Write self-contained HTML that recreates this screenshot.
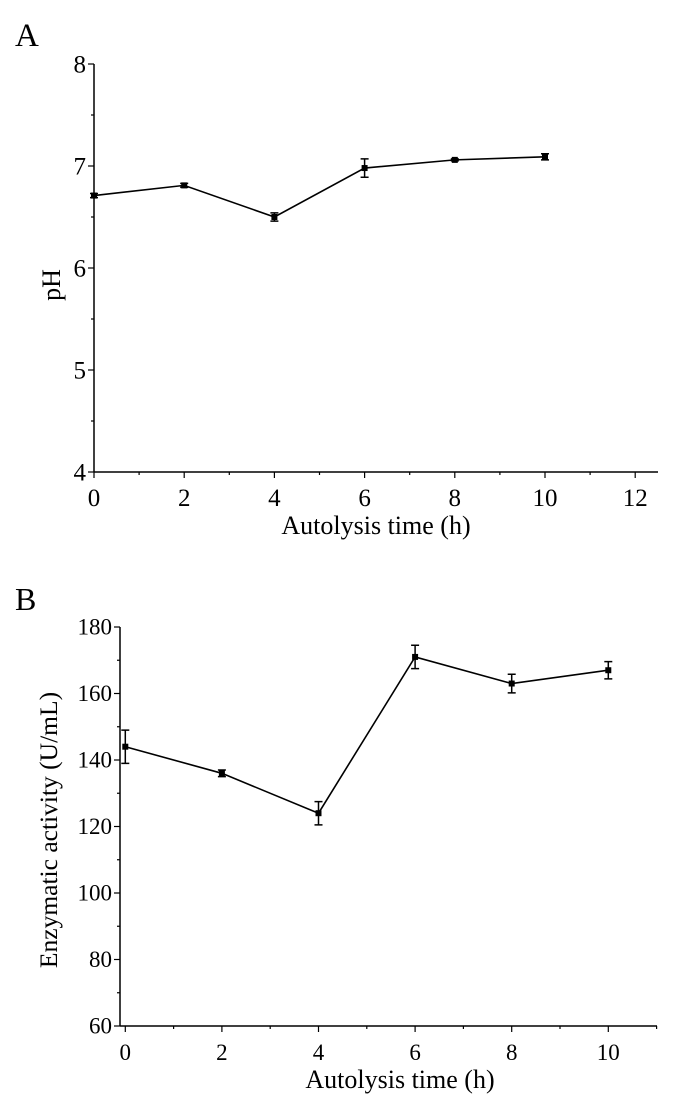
<!DOCTYPE html>
<html><head><meta charset="utf-8"><style>
html,body{margin:0;padding:0;background:#fff;}
svg{display:block;font-family:"Liberation Serif",serif;}
</style></head><body>
<svg id="fig" width="683" height="1105" viewBox="0 0 683 1105">
<text x="15" y="46" font-size="33">A</text>
<text x="15" y="610" font-size="32">B</text>
<g id="chartA"></g>
<g id="chartB"></g>
</svg>
<script>
const timesA = [0, 2, 4, 6, 8, 10];
const phValues = [6.71, 6.81, 6.50, 6.98, 7.06, 7.09];
const phErrors = [0.02, 0.02, 0.04, 0.09, 0.01, 0.03];
const xTicksA = [0, 2, 4, 6, 8, 10, 12];
const yTicksA = [4, 5, 6, 7, 8];

const timesB = [0, 2, 4, 6, 8, 10];
const enzValues = [144, 136, 124, 171, 163, 167];
const enzErrors = [5, 1, 3.5, 3.5, 2.8, 2.6];
const xTicksB = [0, 2, 4, 6, 8, 10];
const yTicksB = [60, 80, 100, 120, 140, 160, 180];

const NS = "http://www.w3.org/2000/svg";
function mk(parent, tag, attrs) {
  const el = document.createElementNS(NS, tag);
  for (const k in attrs) el.setAttribute(k, attrs[k]);
  parent.appendChild(el);
  return el;
}

function drawChart(g, cfg) {
  const xs = v => cfg.x0 + (v - cfg.xmin) * cfg.xpu;
  const ys = v => cfg.ybot - (v - cfg.ymin) * cfg.ypu;
  let ax = mk(g, "line", {x1: cfg.axX, y1: cfg.ytop, x2: cfg.axX, y2: cfg.ybot, stroke: "#000", "stroke-width": 1.5});
  
  
  ax = mk(g, "line", {x1: cfg.axX, y1: cfg.ybot, x2: cfg.xend, y2: cfg.ybot, stroke: "#000", "stroke-width": 1.5});
  
  
  cfg.yTicks.forEach((t, i) => {
    const y = ys(t);
    const tk = mk(g, "line", {x1: cfg.axX - 6, y1: y, x2: cfg.axX, y2: y, stroke: "#000", "stroke-width": 1.2});
    
    
    const lb = mk(g, "text", {x: cfg.axX - 8, y: y + cfg.tickFs * 0.33, "font-size": cfg.tickFs, "text-anchor": "end"});
    lb.textContent = t;
    
    
    if (i < cfg.yTicks.length - 1) {
      const m = ys((t + cfg.yTicks[i + 1]) / 2);
      const mt = mk(g, "line", {x1: cfg.axX - 3, y1: m, x2: cfg.axX, y2: m, stroke: "#000", "stroke-width": 1.2});
      
      
    }
  });
  for (let v = cfg.xmin; v <= cfg.xminorMax; v += 1) {
    const x = xs(v);
    const major = cfg.xTicks.includes(v);
    const tk = mk(g, "line", {x1: x, y1: cfg.ybot, x2: x, y2: cfg.ybot + (major ? 6 : 3), stroke: "#000", "stroke-width": 1.2});
    
    
  }
  cfg.xTicks.forEach(t => {
    const lb = mk(g, "text", {x: xs(t), y: cfg.ybot + 34, "font-size": cfg.tickFs, "text-anchor": "middle"});
    lb.textContent = t;
    
    
  });
  const xt = mk(g, "text", {x: cfg.xTitleX, y: cfg.ybot + 62, "font-size": 26, "text-anchor": "middle"});
  xt.textContent = "Autolysis time (h)";
  
  
  const yt = mk(g, "text", {x: 0, y: 0, "font-size": cfg.yTitleFs, "text-anchor": "middle", transform: `translate(${cfg.yTitleX},${cfg.yTitleY}) rotate(-90)`});
  yt.textContent = cfg.yTitle;
  
  
  const pts = cfg.times.map((t, i) => xs(t) + "," + ys(cfg.values[i])).join(" ");
  const pl = mk(g, "polyline", {points: pts, fill: "none", stroke: "#000", "stroke-width": 1.6});
  
  
  cfg.times.forEach((t, i) => {
    const x = xs(t), y1 = ys(cfg.values[i] + cfg.errors[i]), y2 = ys(cfg.values[i] - cfg.errors[i]);
    const eb = mk(g, "path", {d: `M${x},${y1}V${y2}M${x-4},${y1}H${x+4}M${x-4},${y2}H${x+4}`, stroke: "#000", "stroke-width": 1.5, fill: "none"});
    
    
    const pt = mk(g, "rect", {x: x - 3, y: ys(cfg.values[i]) - 3, width: 6, height: 6, fill: "#000"});
    
    
  });
}

drawChart(document.getElementById("chartA"), {
  x0: 94, xmin: 0, xpu: 45.1, axX: 94, xend: 658, xminorMax: 12,
  ybot: 472, ytop: 64, ymin: 4, ypu: 102, tickFs: 25,
  xTicks: xTicksA, yTicks: yTicksA, times: timesA, values: phValues, errors: phErrors,
  yTitle: "pH", yTitleFs: 26, yTitleX: 60, yTitleY: 285, xTitleX: 376
});
drawChart(document.getElementById("chartB"), {
  x0: 125.3, xmin: 0, xpu: 48.3, axX: 120, xend: 657, xminorMax: 11,
  ybot: 1026, ytop: 627, ymin: 60, ypu: 3.325, tickFs: 23,
  xTicks: xTicksB, yTicks: yTicksB, times: timesB, values: enzValues, errors: enzErrors,
  yTitle: "Enzymatic activity (U/mL)", yTitleFs: 25.5, yTitleX: 57, yTitleY: 830, xTitleX: 400
});
</script>
</body></html>
